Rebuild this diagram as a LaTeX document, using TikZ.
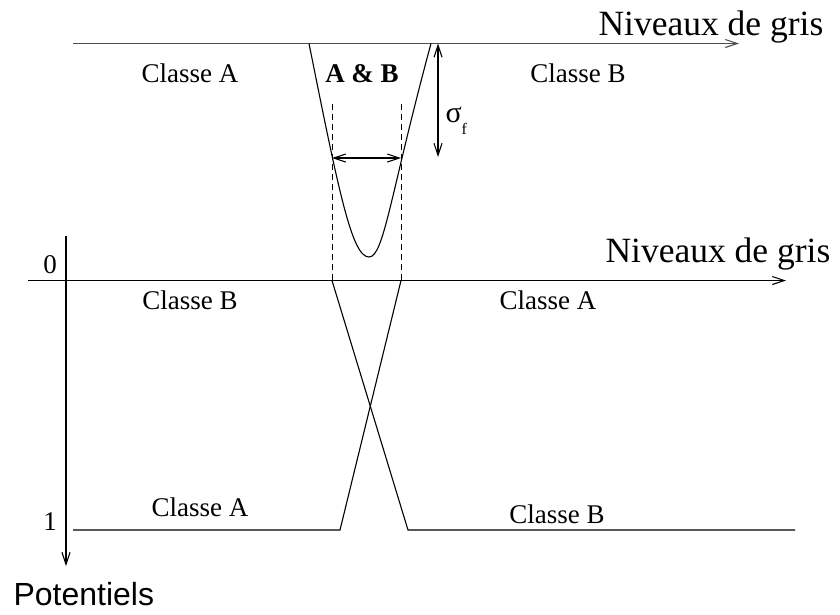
\documentclass[tikz,border=0pt]{standalone}
\usepackage{fontspec}
\setmainfont{Liberation Serif}
\setsansfont{Liberation Sans}
\usetikzlibrary{arrows.meta}

\begin{document}
\begin{tikzpicture}[
        x=1pt, y=-1pt,
        >={Straight Barb[length=12pt,width=8pt]},
        line width=1.1pt,
        every node/.style={inner sep=0pt, anchor=base},
        lbl/.style={font=\fontsize{27}{30}\selectfont},
        big/.style={font=\fontsize{35.5}{40}\selectfont, anchor=base west},
        guide/.style={line width=0.8pt, dash pattern=on 6pt off 4pt}
    ]
    \useasboundingbox (0,0) rectangle (840,614);

    % axes
    \coordinate (T0) at (73,43.5);
    \coordinate (T1) at (739,43.5);
    \coordinate (M0) at (28,280.5);
    \coordinate (M1) at (786,280.5);
    \coordinate (V0) at (66,236);
    \coordinate (V1) at (66,566);
    \draw[->, black!70] (T0) -- (T1);
    \draw[->] (M0) -- (M1);
    \draw[->] (V0) -- (V1);

    \node[big] (gris1) at (598,35) {Niveaux de gris};
    \node[big] (gris2) at (605,262) {Niveaux de gris};
    \node[big, font=\sffamily\fontsize{32}{36}\selectfont] (pot) at (13,605) {Potentiels};
    \node[lbl] (zero) at (50,273) {0};
    \node[lbl] (one) at (50,530) {1};

    % labels
    \node[lbl] (cA1) at (190,82) {Classe A};
    \node[lbl, font=\bfseries\fontsize{27}{30}\selectfont] (AB) at (362,82) {A \& B};
    \node[lbl] (cB1) at (578,82) {Classe B};
    \node[lbl] (cB2) at (190,309) {Classe B};
    \node[lbl] (cA2) at (548,309) {Classe A};
    \node[lbl] (cA3) at (200,516) {Classe A};
    \node[lbl] (cB3) at (557,523) {Classe B};

    % the well
    \coordinate (PL) at (309,43.5);
    \coordinate (PR) at (431,43.5);
    \coordinate (P0) at (369,257);
    \draw (PL) .. controls (339,193) and (352,257) .. (P0)
               .. controls (384,257) and (390.5,193) .. (PR);

    \coordinate (DL0) at (332,104);
    \coordinate (DL1) at (332,280.5);
    \coordinate (DR0) at (401,104);
    \coordinate (DR1) at (401,280.5);
    \draw[guide] (DL0) -- (DL1);
    \draw[guide] (DR0) -- (DR1);

    \coordinate (WL) at (332,158);
    \coordinate (WR) at (401,158);
    \draw[<->] (WL) -- (WR);

    \coordinate (S0) at (438,43.5);
    \coordinate (S1) at (438,157);
    \draw[<->] (S0) -- (S1);
    \node[anchor=base west, font=\fontsize{30}{30}\selectfont] (sig) at (445,122) {σ};
    \node[anchor=base west, font=\fontsize{16}{16}\selectfont] (sigf) at (461,134) {f};

    % potentials
    \coordinate (BL0) at (73,530);
    \coordinate (BL1) at (340,530);
    \coordinate (BR0) at (408,530);
    \coordinate (BR1) at (795,530);
    \draw (BL0) -- (BL1) -- (DR1);
    \draw (DL1) -- (BR0) -- (BR1);

\end{tikzpicture}
\end{document}
